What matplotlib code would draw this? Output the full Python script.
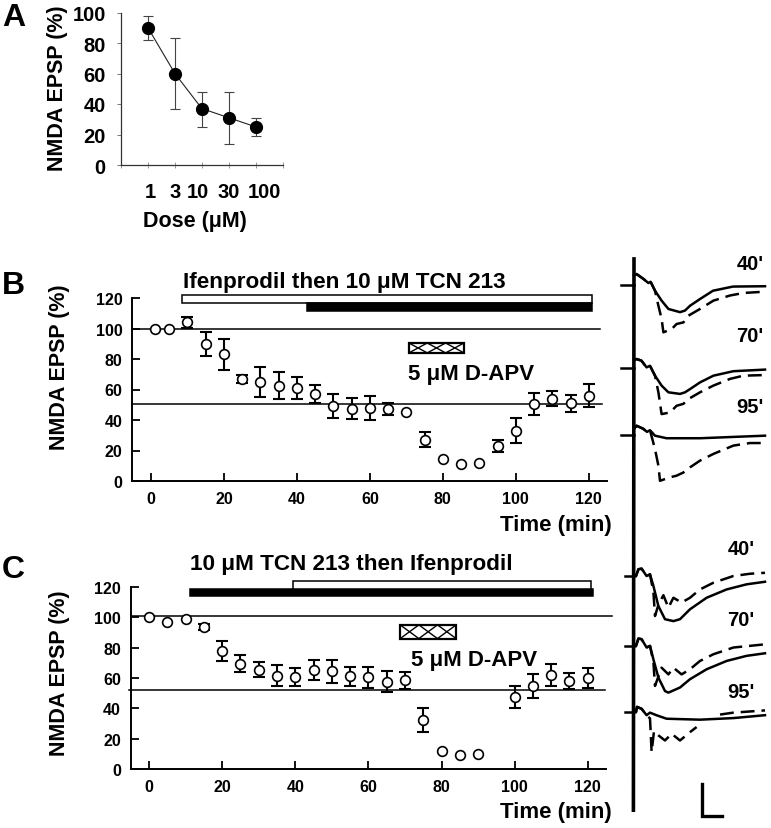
import numpy as np
import matplotlib
matplotlib.use("Agg")
import matplotlib.pyplot as plt
import matplotlib.transforms as mtransforms

plt.rcParams['font.family'] = ['Liberation Sans', 'DejaVu Sans']
plt.rcParams['font.weight'] = 'bold'
plt.rcParams['lines.scale_dashes'] = False

# ---------------- data ----------------
# Panel A: dose response
dose_labels = ['1', '3', '10', '30', '100']
dose_label_pos = [1.08, 2.0, 2.84, 3.99, 5.34]
dose_mean = [90, 60, 37, 31, 25]
dose_err_lo = [8, 23, 12, 17, 6]
dose_err_hi = [8, 23, 11, 17, 6]

# Panel B: Ifenprodil then TCN 213
time_B = [1, 5, 10, 15, 20, 25, 30, 35, 40, 45, 50, 55, 60, 65, 70, 75, 80, 85, 90, 95, 100, 105, 110, 115, 120]
mean_B = [100, 100, 104, 90, 83, 67, 65, 62.5, 61, 57, 49, 47.5, 48, 47, 45.5, 27, 14.5, 11, 11.5, 23, 33, 50.5, 54, 51, 56]
err_B = [0, 0, 3.5, 8, 10, 2.5, 10, 9, 7, 6, 8, 7, 8, 4, 0, 5, 0, 0, 0, 4, 8, 7.5, 5, 5.5, 7.5]

# Panel C: TCN 213 then Ifenprodil
time_C = [0, 5, 10, 15, 20, 25, 30, 35, 40, 45, 50, 55, 60, 65, 70, 75, 80, 85, 90, 100, 105, 110, 115, 120]
mean_C = [100.5, 97, 99, 93.5, 78, 69.5, 65.5, 61.5, 60.5, 65.5, 64.5, 61, 60.5, 57.5, 58.5, 32.5, 12, 9.5, 10, 47.5, 54.5, 62, 58, 60]
err_C = [0, 0, 0, 2, 6.5, 5.5, 5, 7, 6, 6.5, 7.5, 6.5, 7, 7, 5.5, 8, 0, 0, 0, 7.5, 8, 7, 5.5, 6.5]

ref_levels_B = [100, 50.5]
ref_levels_C = [101, 52]

# drug bars: (start, end, bottom, top)
bars_B = {'white': (8.5, 120.8, 116.7, 122.0), 'black': (42.7, 120.8, 111.5, 116.7)}
bars_C = {'black': (11.2, 121.5, 114.0, 119.0), 'white': (39.5, 121.0, 119.0, 123.8)}
apv_B = (70.7, 85.8, 84.0, 90.5)
apv_C = (68.7, 84.0, 86.0, 95.0)
apv_crosses = 3

title_B = 'Ifenprodil then 10 \u03bcM TCN 213'
title_C = '10 \u03bcM TCN 213 then Ifenprodil'
apv_label = '5 \u03bcM D-APV'

# Example traces (time in ms, amplitude in mV relative to baseline)
trB40_s_t = [0.5, 1.8, 5.2, 7.7, 8.8, 11, 14.3, 17.7, 23.5, 26, 28.5, 33.5, 40, 50, 66]
trB40_s_v = [0.3, 0.34, 0.19, 0.06, 0.10, -0.18, -0.49, -0.75, -0.85, -0.80, -0.65, -0.44, -0.18, -0.05, -0.04]
trB40_d_t = [0.5, 1.8, 5.2, 7.7, 8.8, 11, 12.7, 14.3, 15.2, 19.3, 21.8, 25.2, 27.7, 33.5, 40.2, 48.5, 55.2, 66]
trB40_d_v = [0.3, 0.34, 0.19, 0.06, 0.10, -0.18, -0.65, -1.06, -1.48, -1.38, -1.22, -1.17, -0.96, -0.75, -0.49, -0.33, -0.25, -0.21]

trB70_s_t = [0.5, 1.8, 4.2, 6.8, 8.5, 11, 14.3, 17.7, 23.5, 26, 28.5, 33.5, 40.2, 50.2, 66]
trB70_s_v = [0.25, 0.28, 0.23, 0.02, 0.07, -0.24, -0.55, -0.76, -0.81, -0.76, -0.66, -0.45, -0.24, -0.10, -0.05]
trB70_d_t = [0.5, 1.8, 4.2, 6.8, 8.5, 11, 12.7, 14.3, 18.5, 21.8, 25.2, 27.7, 33.5, 40.2, 48.5, 55.2, 66]
trB70_d_v = [0.25, 0.28, 0.23, 0.02, 0.07, -0.24, -0.76, -1.44, -1.39, -1.18, -1.12, -0.97, -0.76, -0.55, -0.34, -0.24, -0.22]

trB95_s_t = [0.5, 1.8, 5, 7, 8.5, 11, 16.8, 33.5, 66]
trB95_s_v = [0.2, 0.29, 0.2, 0.1, 0.15, -0.02, -0.1, -0.1, -0.02]
trB95_d_t = [0.5, 1.8, 5, 7, 8.5, 11, 12.7, 13.5, 18.5, 21.8, 25.2, 28.5, 33.5, 40.2, 50.2, 58.5, 66]
trB95_d_v = [0.2, 0.29, 0.2, 0.1, 0.15, -0.44, -0.96, -1.43, -1.32, -1.27, -1.17, -1.01, -0.80, -0.59, -0.33, -0.25, -0.25]

trC40_s_t = [1.5, 2.7, 4.3, 6.8, 8.5, 10.2, 12.7, 16, 20.2, 23.5, 28.5, 36.8, 46.8, 56.8, 66]
trC40_s_v = [0.0, 0.21, 0.23, 0.0, 0.05, -0.31, -0.94, -1.35, -1.41, -1.35, -1.04, -0.68, -0.42, -0.26, -0.18]
trC40_d_t = [1.5, 2.7, 4.3, 6.8, 8.5, 10.2, 11, 12.7, 15.2, 17.7, 20.2, 24.3, 28.5, 33.5, 40.2, 50.2, 58.5, 66]
trC40_d_v = [0.0, 0.21, 0.23, 0.0, 0.05, -0.5, -1.25, -0.9, -0.6, -0.99, -0.68, -0.83, -0.68, -0.42, -0.21, 0.0, 0.07, 0.10]

trC70_s_t = [1.5, 2.7, 4.3, 6.8, 8.5, 10.2, 12.7, 16, 17.7, 23.5, 28.5, 36.8, 46.8, 56.8, 66]
trC70_s_v = [0.0, 0.23, 0.21, -0.05, 0.0, -0.42, -0.99, -1.41, -1.46, -1.30, -1.04, -0.73, -0.47, -0.31, -0.23]
trC70_d_t = [1.5, 2.7, 4.3, 6.8, 8.5, 10.2, 11, 14.3, 17.7, 20.2, 24.3, 28.5, 33.5, 40.2, 50.2, 66]
trC70_d_v = [0.0, 0.23, 0.21, -0.05, 0.0, -0.5, -1.25, -0.68, -0.89, -0.68, -0.89, -0.73, -0.47, -0.26, -0.05, 0.05]

trC95_s_t = [1.5, 2, 4.3, 6.8, 8.5, 11.7, 16.8, 33.5, 50.2, 66]
trC95_s_v = [0.0, 0.16, 0.1, -0.1, -0.02, -0.1, -0.21, -0.24, -0.19, -0.10]
trC95_d_t = [1.5, 2, 4.3, 6.8, 8.5, 9.3, 10.5, 12.7, 16, 19.3, 23.5, 28.5, 31.8, np.nan, 43.5, 50.2, 66]
trC95_d_v = [0.0, 0.16, 0.1, -0.1, -0.2, -1.25, -0.6, -0.73, -0.89, -0.68, -0.89, -0.63, -0.47, np.nan, -0.08, -0.02, 0.05]

trace_labels = ["40'", "70'", "95'"]
baselines_B = [16.97, 14.375, 12.28]
baselines_C = [7.875, 5.69, 3.625]
label_y_B = [17.625, 15.375, 13.16]
label_y_C = [8.72, 6.53, 4.25]

# ---------------- figure ----------------
W, H = 771, 829
fig = plt.figure(figsize=(W / 100, H / 100), dpi=100)


def rect(l, r, t, b):
    return [l / W, 1 - b / H, (r - l) / W, (b - t) / H]


def ftxt(x, y, s, **kw):
    fig.text(x / W, 1 - y / H, s, **kw)


# Panel A
axA = fig.add_axes(rect(121, 282.7, 13.5, 166))
xA = np.arange(1, len(dose_mean) + 1)
axA.errorbar(xA, dose_mean, yerr=[dose_err_lo, dose_err_hi], fmt='none',
             ecolor='#444444', elinewidth=0.8, capsize=3.5, capthick=0.8, zorder=2)
axA.plot(xA, dose_mean, '-', color='#222222', lw=0.8, zorder=3)
axA.plot(xA, dose_mean, 'o', color='black', ms=8.5, zorder=4)
axA.set_xlim(0, len(dose_mean) + 1)
axA.set_ylim(0, 100)
axA.set_xticks(np.arange(0, len(dose_mean) + 2))
axA.set_xticklabels([])
tA = mtransforms.blended_transform_factory(axA.transData, axA.transAxes)
for xp, lab in zip(dose_label_pos, dose_labels):
    axA.text(xp, -0.177, lab, transform=tA, fontsize=14.5, fontweight='bold',
             ha='center', va='center', clip_on=False)
axA.set_yticks(np.arange(0, 101, 20))
axA.set_yticklabels([str(v) for v in range(0, 101, 20)], fontsize=14.5, fontweight='bold')
for s in ['top', 'right']:
    axA.spines[s].set_visible(False)
for s in ['left', 'bottom']:
    axA.spines[s].set_color('#333333')
    axA.spines[s].set_linewidth(0.9)
axA.tick_params(axis='x', direction='inout', length=4, color='#999999', width=0.7)
axA.tick_params(axis='y', direction='out', length=3, color='#777777', width=0.7, pad=8)
ftxt(194.5, 222, 'Dose (\u03bcM)', fontsize=15.5, fontweight='bold', ha='center', va='center')
ftxt(58, 88, 'NMDA EPSP (%)', fontsize=15.5, fontweight='bold', ha='center', va='center', rotation=90)


def time_panel(ax, t, m, e, refs, ref_x, bars, apv, title, title_xy, apv_xy, tlabel_xy, xlim):
    t = np.array(t); m = np.array(m); e = np.array(e)
    has = e > 0
    ax.errorbar(t[has], m[has], yerr=e[has], fmt='none', ecolor='black',
                elinewidth=1.5, capsize=4, capthick=1.5, zorder=2)
    ax.plot(t, m, 'o', ms=7, mfc='white', mec='black', mew=1.2, zorder=3)
    for lvl, (x0, x1) in zip(refs, ref_x):
        ax.plot([x0, x1], [lvl, lvl], color='black', lw=1.1, clip_on=False, zorder=1)
    for key, (x0, x1, y0, y1) in bars.items():
        ax.barh((y0 + y1) / 2, x1 - x0, left=x0, height=y1 - y0,
                color='black' if key == 'black' else 'white',
                edgecolor='black', lw=1.1, clip_on=False, zorder=4)
    x0, x1, y0, y1 = apv
    ax.barh((y0 + y1) / 2, x1 - x0, left=x0, height=y1 - y0, color='white',
            edgecolor='black', lw=1.6, zorder=4)
    xs = np.linspace(x0, x1, apv_crosses + 1)
    for a, b in zip(xs[:-1], xs[1:]):
        ax.plot([a, b], [y1, y0], color='black', lw=1.0, zorder=5)
        ax.plot([a, b], [y0, y1], color='black', lw=1.0, zorder=5)
    ax.text(title_xy[0], title_xy[1], title, fontsize=16.2, fontweight='bold',
            ha='left', va='center', clip_on=False)
    ax.text(apv_xy[0], apv_xy[1], apv_label, fontsize=16, fontweight='bold',
            ha='left', va='center')
    ax.text(tlabel_xy[0], tlabel_xy[1], 'Time (min)', fontsize=16, fontweight='bold',
            ha='right', va='center', clip_on=False)
    ax.set_xlim(*xlim)
    ax.set_ylim(0, 120)
    ax.set_xticks(np.arange(0, 121, 20))
    ax.set_yticks(np.arange(0, 121, 20))
    ax.tick_params(labelsize=11.5, direction='in', length=6, width=1.3)
    ax.tick_params(axis='x', pad=7)
    ax.tick_params(axis='y', pad=7)
    for lab in ax.get_xticklabels() + ax.get_yticklabels():
        lab.set_fontweight('bold')
    for s in ['top', 'right']:
        ax.spines[s].set_visible(False)
    for s in ['left', 'bottom']:
        ax.spines[s].set_linewidth(1.4)


axB = fig.add_axes(rect(132, 607, 299, 482))
time_panel(axB, time_B, mean_B, err_B, ref_levels_B, [(-5.2, 123), (-5.2, 123.6)],
           bars_B, apv_B, title_B, (8.8, 131), (70.4, 70.2), (126.3, -28.2), (-5.2, 125))
axC = fig.add_axes(rect(130.7, 605.7, 588, 770))
time_panel(axC, time_C, mean_C, err_C, ref_levels_C, [(-5.0, 126.6), (-5.5, 124.8)],
           bars_C, apv_C, title_C, (11.2, 135.8), (71.6, 72), (126.6, -28.3), (-5.0, 124.9))

ftxt(60, 367, 'NMDA EPSP (%)', fontsize=15.5, fontweight='bold', ha='center', va='center', rotation=90)
ftxt(60, 673, 'NMDA EPSP (%)', fontsize=15.5, fontweight='bold', ha='center', va='center', rotation=90)

ftxt(2, 18, 'A', fontsize=23, fontweight='bold', ha='left', va='center')
ftxt(2, 286, 'B', fontsize=23, fontweight='bold', ha='left', va='center')
ftxt(2, 570, 'C', fontsize=23, fontweight='bold', ha='left', va='center')

# Traces
axT = fig.add_axes(rect(600, 771, 250, 829))
axT.set_xlim(-16.5, 69)
axT.set_ylim(0, 579 / 32)
axT.axis('off')
axT.plot([0.2, 0.5], [0.5, 17.84], color='black', lw=2.6, solid_capstyle='butt')

dash = (0, (10, 5))
tr_B = [(trB40_s_t, trB40_s_v, trB40_d_t, trB40_d_v),
        (trB70_s_t, trB70_s_v, trB70_d_t, trB70_d_v),
        (trB95_s_t, trB95_s_v, trB95_d_t, trB95_d_v)]
tr_C = [(trC40_s_t, trC40_s_v, trC40_d_t, trC40_d_v),
        (trC70_s_t, trC70_s_v, trC70_d_t, trC70_d_v),
        (trC95_s_t, trC95_s_v, trC95_d_t, trC95_d_v)]
for traces, bases, ly, lx, bx0 in [(tr_B, baselines_B, label_y_B, 58.5, -6),
                                   (tr_C, baselines_C, label_y_C, 54, -4)]:
    for (st, sv, dt, dv), b, yl, lab in zip(traces, bases, ly, trace_labels):
        axT.plot([bx0, 0.3], [b, b], color='black', lw=1.8)
        axT.plot(st, np.array(sv) + b, color='black', lw=1.8)
        axT.plot(dt, np.array(dv) + b, color='black', lw=1.8, linestyle=dash)
        axT.text(lx, yl, lab, fontsize=14.5, fontweight='bold', ha='center', va='center')

# scale bar (10 ms, 1 mV)
axT.plot([34.5, 34.5, 44.5], [1.375, 0.375, 0.375], color='black', lw=2.4,
         solid_joinstyle='miter')

fig.savefig('out.png', dpi=100)
